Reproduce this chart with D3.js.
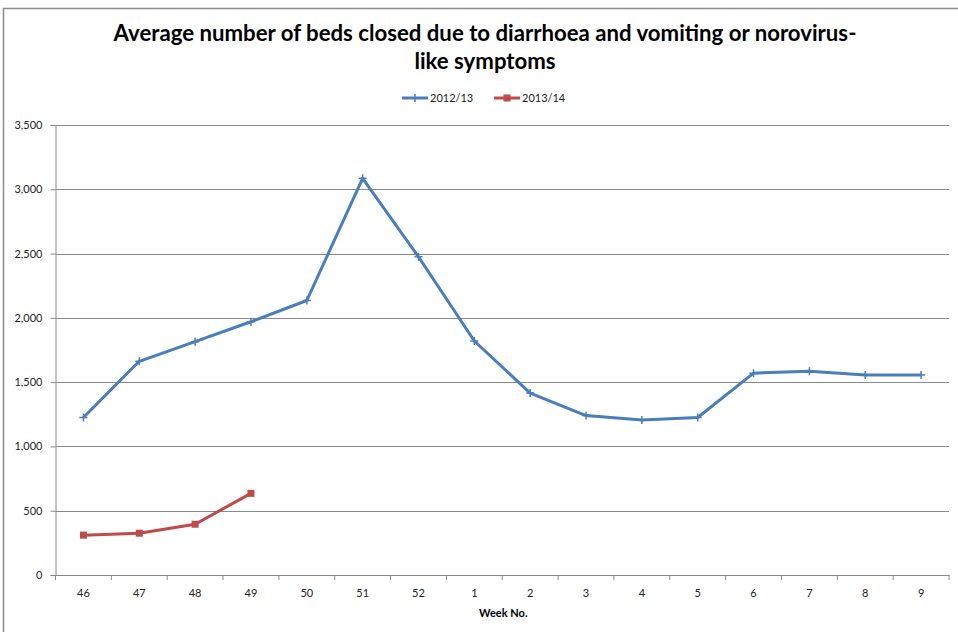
<!DOCTYPE html>
<html lang="en">
<head>
<meta charset="utf-8">
<title>Beds closed</title>
<script src="https://d3js.org/d3.v7.min.js"></script>
<style>
  body { margin: 0; background: #fff; }
  text { font-family: Lato, "Open Sans", sans-serif; }
</style>
</head>
<body>
<svg width="958" height="632" id="mainsvg"></svg>
<script>
const weeks = ['46', '47', '48', '49', '50', '51', '52', '1', '2', '3', '4', '5', '6', '7', '8', '9'];
const beds1213 = [1225, 1662, 1815, 1970, 2135, 3085, 2475, 1820, 1415, 1240, 1205, 1225, 1570, 1585, 1555, 1555];
const beds1314 = [310, 325, 395, 635];
const yTicks = [0, 500, 1000, 1500, 2000, 2500, 3000, 3500];

const svg = d3.select('#mainsvg');
const margin = { top: 125, right: 9, bottom: 57, left: 55.5 };
const innerWidth = 958 - margin.left - margin.right;
const innerHeight = 632 - margin.top - margin.bottom;

// chart frame
svg.append('path')
  .attr('d', 'M3.5,640 V8.5 H970')
  .attr('fill', 'none')
  .attr('stroke', '#8c8c8c')
  .attr('stroke-width', 1.5);

svg.append('text')
  .attr('x', 485).attr('y', 41)
  .attr('text-anchor', 'middle')
  .attr('font-size', 22.2).attr('font-weight', 'bold')
  .attr('fill', '#000')
  .text('Average number of beds closed due to diarrhoea and vomiting or norovirus-');
svg.append('text')
  .attr('x', 485).attr('y', 69)
  .attr('text-anchor', 'middle')
  .attr('font-size', 22.2).attr('font-weight', 'bold')
  .attr('fill', '#000')
  .text('like symptoms');

const g = svg.append('g')
  .attr('transform', `translate(${margin.left}, ${margin.top})`);

const xScale = d3.scaleBand().domain(weeks).range([0, innerWidth]);
const yScale = d3.scaleLinear().domain([0, 3500]).range([innerHeight, 0]);
const xPos = w => xScale(w) + xScale.bandwidth() / 2;

// gridlines
g.append('g')
  .selectAll('line')
  .data(yTicks.filter(d => d > 0))
  .join('line')
  .attr('x1', 0).attr('x2', innerWidth)
  .attr('y1', d => Math.round(yScale(d)) + 0.5)
  .attr('y2', d => Math.round(yScale(d)) + 0.5)
  .attr('stroke', '#8a8a8a');

const yAxis = d3.axisLeft(yScale)
  .tickValues(yTicks)
  .tickFormat(d3.format(','))
  .tickSize(5)
  .tickPadding(8);
const yAxisGroup = g.append('g').call(yAxis);
yAxisGroup.selectAll('line, path').attr('stroke', '#8a8a8a');
yAxisGroup.selectAll('text').attr('font-size', 11).attr('fill', '#222');

const xAxis = d3.axisBottom(xScale).tickSize(0).tickPadding(14);
const xAxisGroup = g.append('g')
  .attr('transform', `translate(0, ${innerHeight})`)
  .call(xAxis);
xAxisGroup.select('.domain').attr('stroke', '#8a8a8a');
xAxisGroup.selectAll('text').attr('font-size', 11).attr('fill', '#222');
// category boundary ticks
xAxisGroup.append('g')
  .selectAll('line')
  .data(weeks.concat(['end']))
  .join('line')
  .attr('x1', (d, i) => i * xScale.bandwidth())
  .attr('x2', (d, i) => i * xScale.bandwidth())
  .attr('y1', 0).attr('y2', 5)
  .attr('stroke', '#8a8a8a');

g.append('text')
  .attr('x', xPos('1') + 29).attr('y', innerHeight + 42)
  .attr('text-anchor', 'middle')
  .attr('font-size', 11).attr('font-weight', 'bold')
  .attr('fill', '#000')
  .text('Week No.');

const line = d3.line()
  .x((d, i) => xPos(weeks[i]))
  .y(d => yScale(d));

const blue = '#4a7ebb';
const red = '#be4b48';

g.append('path')
  .datum(beds1213)
  .attr('d', line)
  .attr('fill', 'none')
  .attr('stroke', blue)
  .attr('stroke-width', 3)
  .attr('stroke-linejoin', 'round');
g.append('g')
  .selectAll('path')
  .data(beds1213)
  .join('path')
  .attr('transform', (d, i) => `translate(${xPos(weeks[i])}, ${yScale(d)})`)
  .attr('d', 'M-4,0H4M0,-4V4')
  .attr('stroke', blue)
  .attr('stroke-width', 1.5);

g.append('path')
  .datum(beds1314)
  .attr('d', line)
  .attr('fill', 'none')
  .attr('stroke', red)
  .attr('stroke-width', 3)
  .attr('stroke-linejoin', 'round');
g.append('g')
  .selectAll('rect')
  .data(beds1314)
  .join('rect')
  .attr('x', (d, i) => xPos(weeks[i]) - 3.5)
  .attr('y', d => yScale(d) - 3.5)
  .attr('width', 7).attr('height', 7)
  .attr('fill', red);

// legend
const legend = svg.append('g').attr('transform', 'translate(402, 98)');
const items = [
  { name: '2012/13', color: blue, marker: 'plus' },
  { name: '2013/14', color: red, marker: 'square' }
];
items.forEach((it, i) => {
  const lg = legend.append('g').attr('transform', `translate(${i * 92}, 0)`);
  lg.append('line').attr('x1', 0).attr('x2', 26).attr('y1', 0).attr('y2', 0)
    .attr('stroke', it.color).attr('stroke-width', 3);
  if (it.marker === 'plus') {
    lg.append('path').attr('d', 'M9,0H17M13,-4V4').attr('stroke', it.color).attr('stroke-width', 1.5);
  } else {
    lg.append('rect').attr('x', 9.5).attr('y', -3.5).attr('width', 7).attr('height', 7).attr('fill', it.color);
  }
  lg.append('text').attr('x', 28).attr('y', 4)
    .attr('font-size', 11).attr('fill', '#222')
    .text(it.name);
});
</script>
</body>
</html>
